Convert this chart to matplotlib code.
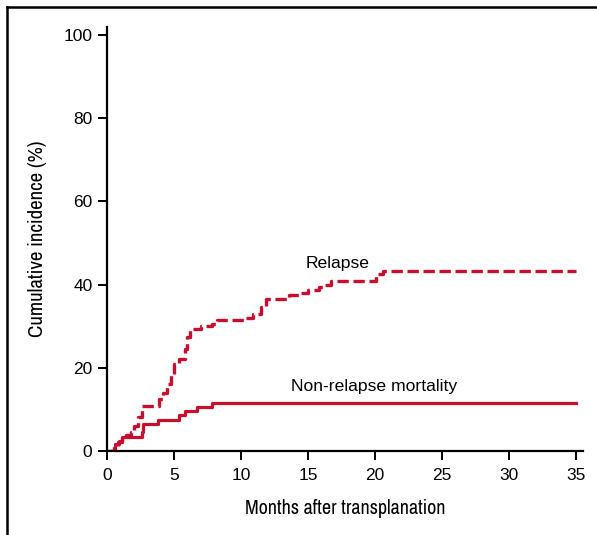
import matplotlib
matplotlib.use("Agg")
import matplotlib.pyplot as plt
from matplotlib import font_manager
from matplotlib.lines import Line2D

# step points (months, %)
relapse_t = [0, 0.5, 0.8, 1.1, 1.4, 1.8, 2.0, 2.3, 2.6, 3.9, 4.2, 4.5, 4.8, 5.0, 5.4,
             5.8, 6.0, 6.2, 7.0, 7.8, 8.2, 10.4, 10.9, 11.5, 11.9, 13.6, 14.4, 15.0,
             15.8, 16.2, 16.7, 20.1, 20.6, 35]
relapse_v = [0, 1.2, 2.2, 3.0, 3.8, 4.6, 6.0, 8.2, 10.8, 12.6, 14.0, 16.2, 18.4, 21.0,
             22.2, 24.6, 27.4, 29.4, 30.0, 30.5, 31.4, 32.0, 33.0, 34.6, 36.6, 37.4,
             38.0, 38.6, 39.4, 40.0, 40.8, 42.6, 43.2, 43.2]

nrm_t = [0, 0.6, 0.9, 1.1, 2.6, 2.7, 3.8, 5.4, 5.8, 6.7, 7.8, 35]
nrm_v = [0, 1.8, 2.5, 3.3, 4.6, 6.6, 7.4, 8.6, 9.6, 10.6, 11.6, 11.6]

x_ticks = [0, 5, 10, 15, 20, 25, 30, 35]
y_ticks = [0, 20, 40, 60, 80, 100]

red = "#c8102e"
tick_font = "Liberation Sans"

# axis titles are in a condensed face in the original, use one if there is any
names = sorted({f.name for f in font_manager.fontManager.ttflist})
narrow = [n for n in names if "Narrow" in n or "Condensed" in n]
label_font = [narrow[0] if narrow else tick_font, "DejaVu Sans"]

fig = plt.figure(figsize=(5.97, 5.35), dpi=100)
ax = fig.add_axes([0.1792, 0.157, 0.797, 0.793])

ax.step(nrm_t, nrm_v, where="post", color=red, lw=2.3)
ax.step(relapse_t, relapse_v, where="post", color=red, lw=2.4, linestyle=(0, (3.4, 1.4)))

ax.text(17.2, 45.1, "Relapse", ha="center", va="center", fontsize=12.6, family=tick_font)
ax.text(19.9, 15.5, "Non-relapse mortality", ha="center", va="center", fontsize=12.6,
        family=tick_font)

ax.set_xlim(0, 35.5)
ax.set_ylim(0, 102)
ax.set_xticks(x_ticks)
ax.set_yticks(y_ticks)
ax.tick_params(direction="out", length=6.5, width=1.4, labelsize=12.5, pad=4)
ax.tick_params(axis="x", pad=6)
for lab in ax.get_xticklabels() + ax.get_yticklabels():
    lab.set_family(tick_font)

for s in ["top", "right"]:
    ax.spines[s].set_visible(False)
for s in ["left", "bottom"]:
    ax.spines[s].set_linewidth(1.6)

xl = ax.set_xlabel("Months after transplanation", fontsize=14, family=label_font)
yl = ax.set_ylabel("Cumulative incidence (%)", fontsize=14, family=label_font)

# size the titles to the width they take in the original
fig.canvas.draw()
r = fig.canvas.get_renderer()
xl.set_fontsize(14 * 199 / xl.get_window_extent(r).width)
yl.set_fontsize(14 * 196 / yl.get_window_extent(r).height)
ax.xaxis.labelpad = 11
ax.yaxis.labelpad = 12

# frame lines at top and left of the panel
fig.add_artist(Line2D([0.0109, 1.0], [0.986, 0.986], transform=fig.transFigure,
                      color="black", lw=1.8))
fig.add_artist(Line2D([0.0109, 0.0109], [0.0, 0.986], transform=fig.transFigure,
                      color="black", lw=1.8))

fig.savefig("out.png", dpi=100)
